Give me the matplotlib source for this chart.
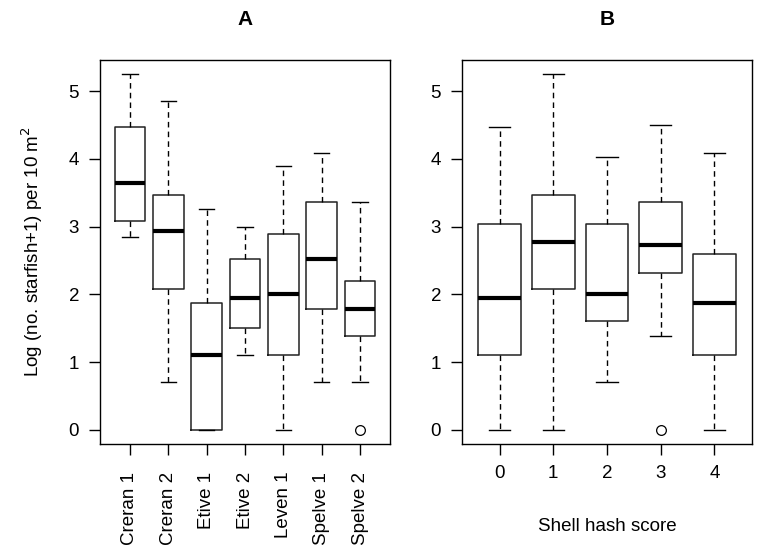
import matplotlib
matplotlib.use("Agg")
import matplotlib.pyplot as plt

plt.rcParams['font.family'] = ['Liberation Sans', 'DejaVu Sans']

# panel A: sites
sites = ['Creran 1', 'Creran 2', 'Etive 1', 'Etive 2', 'Leven 1', 'Spelve 1', 'Spelve 2']
site_low = [2.84, 0.70, 0.00, 1.10, 0.00, 0.70, 0.70]
site_q1 = [3.09, 2.08, 0.00, 1.50, 1.10, 1.79, 1.39]
site_med = [3.64, 2.94, 1.10, 1.95, 2.01, 2.52, 1.79]
site_q3 = [4.47, 3.47, 1.87, 2.52, 2.89, 3.36, 2.20]
site_high = [5.25, 4.86, 3.26, 2.99, 3.89, 4.08, 3.37]
site_out = [[], [], [], [], [], [], [0.0]]

# panel B: shell hash score
scores = ['0', '1', '2', '3', '4']
hash_low = [0.00, 0.00, 0.70, 1.39, 0.00]
hash_q1 = [1.10, 2.08, 1.61, 2.31, 1.10]
hash_med = [1.95, 2.77, 2.01, 2.73, 1.87]
hash_q3 = [3.04, 3.47, 3.04, 3.37, 2.60]
hash_high = [4.47, 5.25, 4.03, 4.50, 4.08]
hash_out = [[], [], [], [0.0], []]


def make_stats(labels, low, q1, med, q3, high, out):
    return [dict(label=l, whislo=a, q1=b, med=c, q3=d, whishi=e, fliers=f)
            for l, a, b, c, d, e, f in zip(labels, low, q1, med, q3, high, out)]


def draw(ax, stats):
    ax.bxp(stats, widths=0.8, showfliers=True,
           boxprops=dict(color='#222222', linewidth=1.1),
           medianprops=dict(color='black', linewidth=3, solid_capstyle='butt'),
           whiskerprops=dict(color='black', linewidth=1, linestyle=(0, (4, 3))),
           capprops=dict(color='black', linewidth=1),
           capwidths=0.4,
           flierprops=dict(marker='o', markerfacecolor='white',
                           markeredgecolor='black', markersize=7, markeredgewidth=0.9))
    n = len(stats)
    ax.set_xlim(0.5 - n * 0.04, n + 0.5 + n * 0.04)
    ax.set_ylim(-0.21, 5.46)
    ax.set_yticks([0, 1, 2, 3, 4, 5])
    ax.tick_params(direction='out', length=8, width=1, labelsize=13.5, pad=7)
    for s in ax.spines.values():
        s.set_linewidth(1)


fig = plt.figure(figsize=(7.57, 5.5), dpi=100)
axA = fig.add_axes([0.1321, 0.1927, 0.3831, 0.6982])
axB = fig.add_axes([0.6103, 0.1927, 0.3831, 0.6982])

draw(axA, make_stats(sites, site_low, site_q1, site_med, site_q3, site_high, site_out))
axA.set_xticklabels(sites, rotation=90)
axA.tick_params(axis='x', pad=12)
axA.set_title('A', fontweight='bold', fontsize=15, pad=25)
axA.set_ylabel('Log (no. starfish+1) per 10 m$^2$', fontsize=13.5, labelpad=17)

draw(axB, make_stats(scores, hash_low, hash_q1, hash_med, hash_q3, hash_high, hash_out))
axB.set_title('B', fontweight='bold', fontsize=15, pad=25)
axB.set_xlabel('Shell hash score', fontsize=13.5, labelpad=26)

fig.savefig('out.png', dpi=100)
